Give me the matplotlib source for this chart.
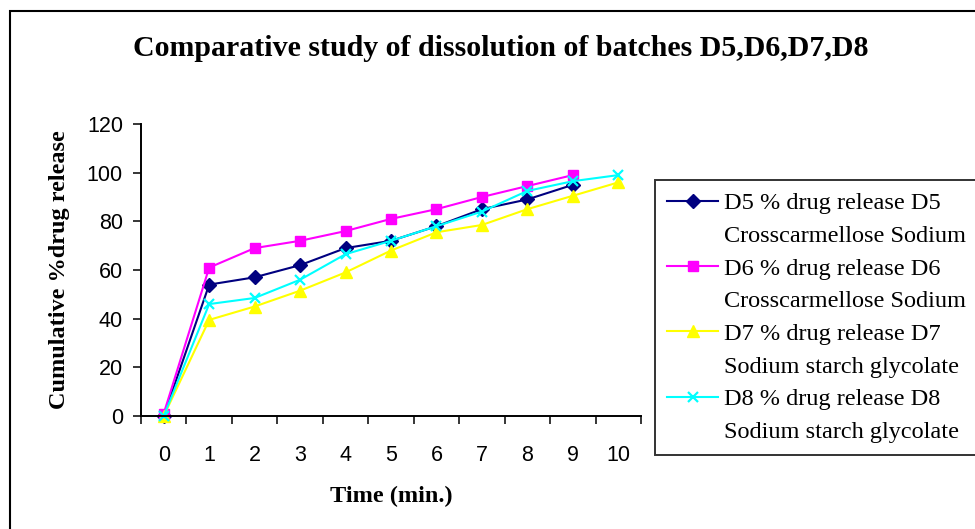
import matplotlib
matplotlib.use("Agg")
import matplotlib.pyplot as plt
from matplotlib.lines import Line2D
from matplotlib.patches import Rectangle

# Waarden
time_labels = ["0", "1", "2", "3", "4", "5", "6", "7", "8", "9", "10"]
d5 = [0, 54, 57, 62, 69, 72, 78, 85, 89, 95]
d6 = [1, 61, 69, 72, 76, 81, 85, 90, 94.5, 99]
d7 = [0, 39.5, 45, 51.5, 59, 68, 75.5, 78.5, 85, 90.5, 96]
d8 = [0, 46, 48.5, 56, 66.5, 72, 78, 84, 92.5, 96.5, 99]

series_names = ["D5 % drug release D5", "D6 % drug release D6",
                "D7 % drug release D7", "D8 % drug release D8"]
excipients = ["Crosscarmellose Sodium", "Crosscarmellose Sodium",
              "Sodium starch glycolate", "Sodium starch glycolate"]

SERIF = "Liberation Serif"
SANS = "Liberation Sans"

fig = plt.figure(figsize=(9.75, 5.29), dpi=100)
ax = fig.add_axes([141 / 975, 1 - 416 / 529, 500 / 975, 292 / 529])

stijlen = [
    dict(color="#000080", marker="D", markersize=7),
    dict(color="#FF00FF", marker="s", markersize=7.5),
    dict(color="#FFFF00", marker="^", markersize=9),
    dict(color="#00FFFF", marker="x", markersize=7, markeredgewidth=1.6),
]

handles = []
for waarden, st in zip([d5, d6, d7, d8], stijlen):
    xs = list(range(len(waarden)))
    (ln,) = ax.plot(xs, waarden, linewidth=1.5, clip_on=False, **st)
    handles.append(ln)

# categorie-as: streepjes tussen de labels
n = len(time_labels)
ax.set_xlim(-0.5, n - 0.5)
ax.set_xticks([i - 0.5 for i in range(n + 1)])
ax.set_xticklabels([])
ax.set_xticks(range(n), minor=True)
ax.set_xticklabels(time_labels, minor=True, fontfamily=SANS, fontsize=15.5)
ax.tick_params(axis="x", which="major", direction="out", length=6, width=1.1)
ax.tick_params(axis="x", which="minor", length=0, pad=21)

ax.set_ylim(0, 120)
ax.set_yticks(range(0, 121, 20))
ax.set_yticklabels([str(v) for v in range(0, 121, 20)], fontfamily=SANS, fontsize=15.5)
ax.tick_params(axis="y", direction="out", length=6, width=1.1, pad=7)

for kant in ["top", "right"]:
    ax.spines[kant].set_visible(False)
for kant in ["left", "bottom"]:
    ax.spines[kant].set_linewidth(1.4)

ax.set_xlabel("Time (min.)", fontfamily=SERIF, fontweight="bold", fontsize=17.5, labelpad=14)
ax.set_ylabel("Cumulative %drug release", fontfamily=SERIF, fontweight="bold",
              fontsize=17.5, labelpad=12)

fig.text(501 / 975, 1 - 49 / 529,
         "Comparative study of dissolution of batches D5,D6,D7,D8",
         ha="center", va="center", fontfamily=SERIF, fontweight="bold", fontsize=21.5)

# legenda: handle op de eerste regel, stofnaam op de tweede
leg_handles, leg_labels = [], []
leeg = Line2D([], [], linestyle="none", marker=None)
for h, naam, hulp in zip(handles, series_names, excipients):
    leg_handles += [h, leeg]
    leg_labels += [naam, hulp]

leg = fig.legend(leg_handles, leg_labels, loc="upper left",
                 bbox_to_anchor=(655 / 975, 1 - 180 / 529), borderaxespad=0,
                 prop={"family": SERIF, "size": 17.5}, handlelength=2.1,
                 handletextpad=0.25, labelspacing=0.44, borderpad=0.5,
                 frameon=True, fancybox=False, shadow=False)
leg.get_frame().set_edgecolor("black")
leg.get_frame().set_linewidth(1.4)

# buitenkader rond de grafiek
fig.patches.append(Rectangle((10 / 975, -0.5), 5, 0.5 + 1 - 11 / 529,
                             transform=fig.transFigure, fill=False,
                             edgecolor="black", linewidth=1.5))

fig.savefig("out.png", dpi=100)
